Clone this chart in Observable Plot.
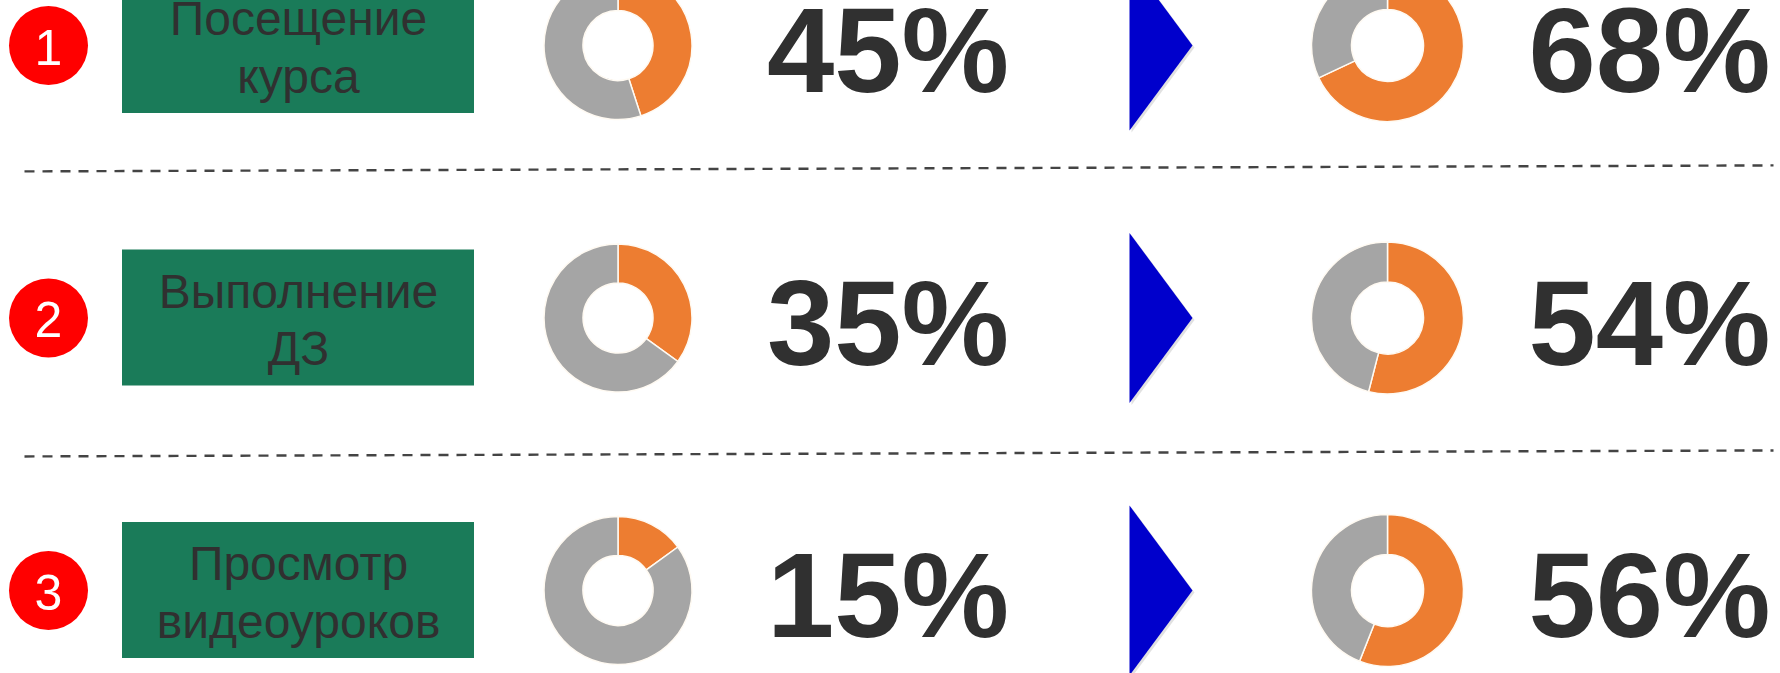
<!DOCTYPE html>
<html>
<head>
<meta charset="utf-8">
<script src="https://cdn.jsdelivr.net/npm/d3@7"></script>
<script src="https://cdn.jsdelivr.net/npm/@observablehq/plot@0.6"></script>
<style>
  html, body { margin: 0; padding: 0; background: #ffffff; overflow: hidden; }
</style>
</head>
<body>
<div id="chart"></div>
<script>
// ---- data ----
const rowIds = ["1", "2", "3"];
const labels = ["Посещение\nкурса", "Выполнение\nДЗ", "Просмотр\nвидеоуроков"];
const before = [45, 35, 15];
const after = [68, 54, 56];

const rows = rowIds.map((id, i) => ({i, id, label: labels[i], before: before[i], after: after[i]}));

// ---- layout (pixels along x, row units along y) ----
const W = 1780, H = 673;
const col = {badge: 48, label: 298, donutBefore: 617.5, valueBefore: 887.5, arrow: 1160.5, donutAfter: 1387, valueAfter: 1649};
const rowStep = 272.5;
const boxHalfW = 176, boxHalfH = 68 / rowStep;
const separators = [
  {x1: 24, x2: 1773, y1: 0.462, y2: 0.440},
  {x1: 24, x2: 1773, y1: 1.508, y2: 1.486}
];

const ORANGE = "#ED7D31", GRAY = "#A5A5A5", GREEN = "#1A7B59", RED = "#FF0000", BLUE = "#0000CC", INK = "#303030";

// annular sector symbol (angles in degrees, clockwise from 12 o'clock)
function sector(a0, a1, innerRatio) {
  return {
    draw(ctx, size) {
      const r = Math.sqrt(size / Math.PI), ri = r * innerRatio;
      const t0 = (a0 - 90) * Math.PI / 180, t1 = (a1 - 90) * Math.PI / 180;
      ctx.moveTo(ri * Math.cos(t0), ri * Math.sin(t0));
      ctx.lineTo(r * Math.cos(t0), r * Math.sin(t0));
      ctx.arc(0, 0, r, t0, t1, false);
      ctx.lineTo(ri * Math.cos(t1), ri * Math.sin(t1));
      ctx.arc(0, 0, ri, t1, t0, true);
      ctx.closePath();
    }
  };
}

// elongated right-pointing triangle
const arrowSymbol = {
  draw(ctx) {
    ctx.moveTo(-31.5, -85);
    ctx.lineTo(31.5, 0);
    ctx.lineTo(-31.5, 85);
    ctx.closePath();
  }
};

function donut(d, key, cx, r, ratio) {
  const a = d[key] * 3.6;
  return [
    Plot.dot([d], {x: () => cx, y: "i", r, symbol: sector(0, a, ratio), fill: ORANGE, stroke: "#fffaf2", strokeWidth: 1.5}),
    Plot.dot([d], {x: () => cx, y: "i", r, symbol: sector(a, 360, ratio), fill: GRAY, stroke: "#fffaf2", strokeWidth: 1.5})
  ];
}

const chart = Plot.plot({
  width: W,
  height: H,
  margin: 0,
  x: {domain: [0, W], range: [0, W], axis: null},
  y: {domain: [0, 2], range: [45, 45 + 2 * rowStep], axis: null},
  style: {fontFamily: "'Liberation Sans', Arial, sans-serif", background: "#ffffff"},
  marks: [
    Plot.link(separators, {x1: "x1", x2: "x2", y1: "y1", y2: "y2", stroke: "#444444", strokeWidth: 2.4, strokeDasharray: "10,8"}),
    // badges
    Plot.dot(rows, {x: () => col.badge, y: "i", r: 39.5, fill: RED}),
    Plot.text(rows, {x: () => col.badge, y: "i", text: "id", fill: "#ffffff", fontSize: 50, dy: 3}),
    // label boxes
    Plot.rect(rows, {x1: () => col.label - boxHalfW, x2: () => col.label + boxHalfW, y1: d => d.i - boxHalfH, y2: d => d.i + boxHalfH, fill: GREEN}),
    Plot.text(rows, {x: () => col.label, y: "i", text: "label", fill: INK, fontSize: 48, lineHeight: 1.2}),
    // donuts
    ...rows.flatMap(d => [
      ...donut(d, "before", col.donutBefore, 74, 0.473),
      ...donut(d, "after", col.donutAfter, 76, 0.474)
    ]),
    // values
    Plot.text(rows, {x: () => col.valueBefore, y: "i", text: d => d.before + "%", fill: INK, fontSize: 121, fontWeight: "bold", dy: 8}),
    Plot.text(rows, {x: () => col.valueAfter, y: "i", text: d => d.after + "%", fill: INK, fontSize: 121, fontWeight: "bold", dy: 8}),
    // arrows
    Plot.dot(rows, {x: () => col.arrow, y: "i", symbol: arrowSymbol, fill: "#888888", fillOpacity: 0.25, dx: 2, dy: 2}),
    Plot.dot(rows, {x: () => col.arrow, y: "i", symbol: arrowSymbol, fill: BLUE})
  ]
});

document.getElementById("chart").appendChild(chart);
</script>
</body>
</html>
